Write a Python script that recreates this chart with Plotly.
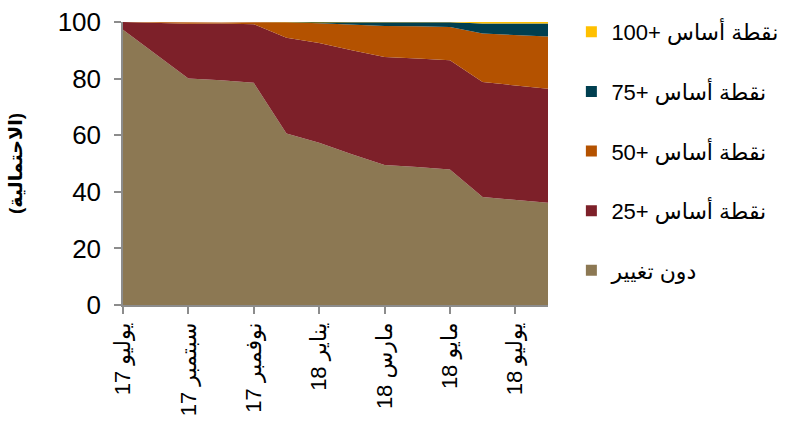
import plotly.graph_objects as go

# monthly points, Jul 2017 .. Aug 2018
months = ["2017-07", "2017-08", "2017-09", "2017-10", "2017-11", "2017-12", "2018-01",
          "2018-02", "2018-03", "2018-04", "2018-05", "2018-06", "2018-07", "2018-08"]
tick_labels = ["يوليو 17", "سبتمبر 17", "نوفمبر 17", "يناير 18", "مارس 18", "مايو 18", "يوليو 18"]

no_change = [97.3, 88.6, 80.0, 79.4, 78.5, 60.6, 57.3, 53.3, 49.5, 48.8, 47.9, 38.2, 37.1, 36.1]
bp25 = [2.7, 11.2, 19.4, 20.1, 20.7, 33.8, 35.3, 36.7, 38.1, 38.3, 38.6, 40.6, 40.5, 40.3]
bp50 = [0.0, 0.1, 0.3, 0.3, 0.7, 5.5, 7.0, 9.1, 11.0, 11.4, 11.7, 17.1, 17.8, 18.5]
bp75 = [0.0, 0.0, 0.0, 0.0, 0.0, 0.1, 0.4, 0.8, 1.3, 1.4, 1.7, 3.6, 4.1, 4.6]
bp100 = [0.0, 0.0, 0.0, 0.0, 0.0, 0.0, 0.0, 0.1, 0.1, 0.1, 0.1, 0.5, 0.5, 0.5]

RLE, PDF = "\u202b", "\u202c"
series = [
    ("دون تغيير", no_change, "#8c7853"),
    (RLE + "نقطة أساس +25" + PDF, bp25, "#7d2029"),
    (RLE + "نقطة أساس +50" + PDF, bp50, "#b45200"),
    (RLE + "نقطة أساس +75" + PDF, bp75, "#003f50"),
    (RLE + "نقطة أساس +100" + PDF, bp100, "#ffc000"),
]

xs = list(range(len(months)))
font = "Liberation Sans, Arial, DejaVu Sans, sans-serif"

fig = go.Figure()
for name, vals, color in series:
    fig.add_trace(go.Scatter(
        x=xs, y=vals, stackgroup="one", mode="lines",
        line=dict(width=0, color=color), fillcolor=color,
        showlegend=False, hoverinfo="skip"
    ))
# legend entries as square markers, top item = +100
for i, (name, vals, color) in enumerate(reversed(series)):
    fig.add_trace(go.Scatter(
        x=[None], y=[None], mode="markers", name=name,
        marker=dict(symbol="square", size=11, color=color),
        legendgroup=str(i)
    ))

fig.update_layout(
    width=796, height=425,
    margin=dict(l=123, r=248, t=21, b=120),
    plot_bgcolor="white", paper_bgcolor="white",
    font=dict(family=font, size=24, color="black"),
    showlegend=True,
    legend=dict(x=1.055, y=1.035, xanchor="left", yanchor="top",
                traceorder="grouped", tracegroupgap=28, maxheight=400,
                font=dict(size=22), bgcolor="rgba(0,0,0,0)"),
)
fig.update_xaxes(
    range=[0, len(months) - 1], automargin=False,
    tickvals=xs[::2], ticktext=tick_labels, tickangle=-90,
    showgrid=False, zeroline=False,
    showline=True, linecolor="#8c8c8c", linewidth=1.5,
    ticks="outside", ticklen=7, tickcolor="#8c8c8c", tickwidth=1.5,
    tickfont=dict(size=22),
)
fig.update_yaxes(
    range=[0, 100], tickvals=[0, 20, 40, 60, 80, 100], automargin=False,
    showgrid=False, zeroline=False,
    showline=True, linecolor="#8c8c8c", linewidth=1.5,
    ticks="outside", ticklen=7, tickcolor="#8c8c8c", tickwidth=1.5,
    tickfont=dict(size=26), ticklabelstandoff=8,
    title=dict(text="<b>(الاحتمالية)</b>", font=dict(size=19), standoff=30),
)

fig.write_html("out.html", config={"displayModeBar": False},
               post_script="document.body.style.margin='0px';")
